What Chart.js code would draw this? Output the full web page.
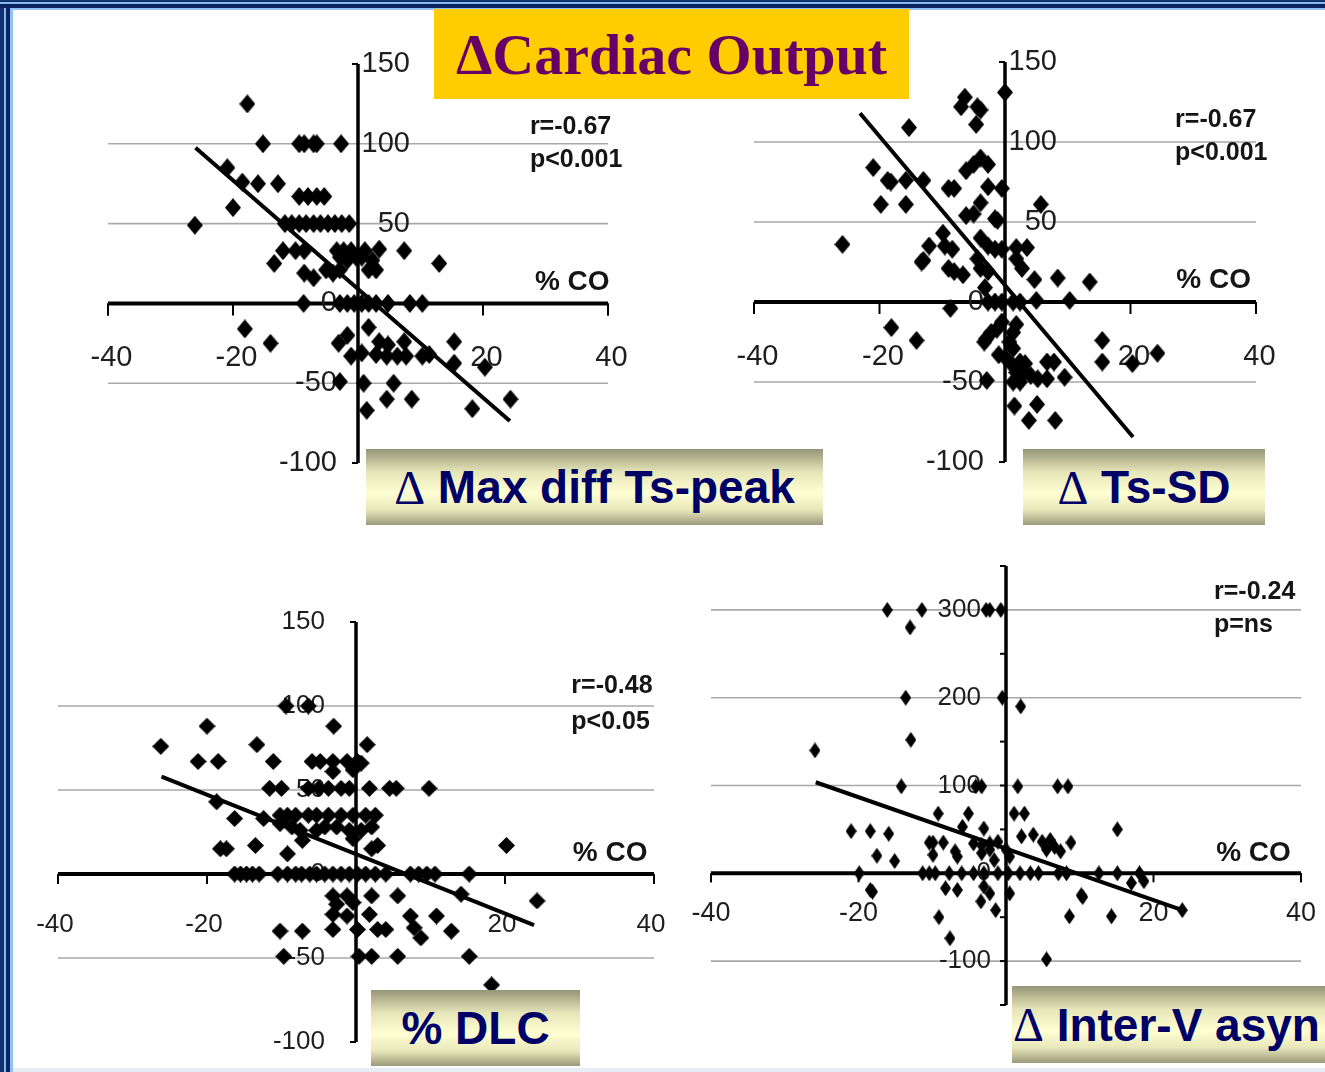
<!DOCTYPE html>
<html>
<head>
<meta charset="utf-8">
<script src="https://cdn.jsdelivr.net/npm/chart.js@4.4.1/dist/chart.umd.min.js"></script>
<style>
html,body{margin:0;padding:0;}
body{width:1325px;height:1072px;position:relative;overflow:hidden;background:#fff;font-family:"Liberation Sans",Arial,sans-serif;}
canvas{position:absolute;left:0;top:0;}
.frameTop{position:absolute;left:0;top:0;width:1325px;height:10px;background:linear-gradient(to bottom,#12306e 0,#12306e 2px,#86b6f0 2px,#86b6f0 4px,#0b2460 4px,#0b2460 8px,#8fc0f6 8px,#8fc0f6 10px);z-index:5;}
.frameLeft{position:absolute;left:0;top:8px;width:13px;height:1064px;background:linear-gradient(to right,#12306e 0,#12306e 4px,#86b6f0 4px,#86b6f0 6px,#0b2460 6px,#0b2460 10px,#8fc0f6 10px,#8fc0f6 13px);z-index:5;}
.frameBottom{position:absolute;left:0;top:1068px;width:1325px;height:4px;background:#e6edf5;z-index:4;}
.title{position:absolute;left:434px;top:9px;width:475px;height:90px;background:#ffcc00;color:#660066;font-family:"Liberation Serif","Times New Roman",serif;font-weight:bold;font-size:58px;display:flex;align-items:center;justify-content:center;z-index:6;white-space:nowrap;}
.lab{position:absolute;background:linear-gradient(to bottom,#959578 0%,#e6e5b8 30%,#ffffd4 58%,#e8e7ba 80%,#9a9a7c 100%);color:#000066;font-family:"Liberation Sans",Arial,sans-serif;font-weight:bold;font-size:46px;display:flex;align-items:center;justify-content:center;white-space:nowrap;z-index:6;}
.lab .d{font-family:"Liberation Serif","Times New Roman",serif;font-weight:normal;font-size:48px;}
</style>
</head>
<body>
<div class="frameTop"></div>
<div class="frameLeft"></div>
<div class="frameBottom"></div>
<canvas id="c1" width="1325" height="1072"></canvas>
<canvas id="c2" width="1325" height="1072"></canvas>
<canvas id="c3" width="1325" height="1072"></canvas>
<canvas id="c4" width="1325" height="1072"></canvas>
<div class="title">ΔCardiac Output</div>
<div class="lab" style="left:366px;top:449px;width:457px;height:76px;"><span class="d">Δ</span>&nbsp;Max diff Ts-peak</div>
<div class="lab" style="left:1023px;top:449px;width:242px;height:76px;"><span class="d">Δ</span>&nbsp;Ts-SD</div>
<div class="lab" style="left:371px;top:990px;width:209px;height:76px;">% DLC</div>
<div class="lab" style="left:1012px;top:986px;width:340px;height:77px;justify-content:flex-start;padding-left:1px;"><span class="d">Δ</span>&nbsp;Inter-V asyn</div>
<script>
// ---------- DATA ----------
const xTickVals = [-40, -20, 20, 40];
const xTickLabels = ['-40', '-20', '20', '40'];
const yTickVals150 = [150, 100, 50, 0, -50, -100];
const yTickLabels150 = ['150', '100', '50', '0', '-50', '-100'];
const gridVals150 = [100, 50, -50];
const yTickVals300 = [300, 200, 100, 0, -100];
const yTickLabels300 = ['300', '200', '100', '0', '-100'];
const yTickMarks300 = [350, 300, 250, 200, 150, 100, 50, 0, -50, -100, -150];
const gridVals300 = [300, 200, 100, -100];

// Panel 1: Δ Max diff Ts-peak vs % CO
const p1X = [-17.7,-15.2,-9.4,-8.6,-7.1,-6.6,-2.7,
  -20.9,-18.5,-16,-12.8,-20,-26.1,
  -9.4,-8,-6.6,-5.4,
  -11.7,-10.6,-9.4,-8.3,-7.1,-6,-4.8,-3.7,-2.6,-1.4,
  -12,-10,-8.6,-3.4,-2.3,-1.1,1.1,3.4,7.4,
  13,-13.4,
  -8.6,-7.1,-5.1,-4,-2.9,-1.7,-0.3,1.7,2.9,-2.9,0.6,2.3,
  -8.7,-2.9,-1.7,-0.6,0.6,1.7,2.9,4.8,8.3,10.3,
  -18.1,-14,1.7,-1.7,-3.1,3.4,4.8,7.4,15.4,
  -1.1,0.6,2.9,4.6,6.3,7.7,10.3,11.4,15.4,
  20.3,-2.9,0.9,5.7,4.6,8.6,1.4,18.3,24.4];
const p1Y = [125,100,100,100,100,100,100,
  85,76,75,75,60,49,
  67,67,67,67,
  50,50,50,50,50,50,50,50,50,50,
  33,33,33,33,33,33,33,34,33,
  25,25,
  19,16,21,19,21,27,29,21,21,29,29,27,
  0,0,0,0,0,0,0,0,0,0,
  -16,-25,-15,-20,-25,-24,-26,-24,-24,
  -33,-31,-32,-33,-33,-33,-33,-32,-37.5,
  -40,-49,-50,-50,-60,-60,-67,-66,-60];
const p1FitX = [-26, 24.3];
const p1FitY = [97.5, -73.7];

// Panel 2: Δ Ts-SD vs % CO
const p2X = [0,-6.4,-7,-4.4,-3.9,-4.6,-15.3,-21,-18.7,-18.2,-15.8,-13,-19.8,-15.8,-25.9,
  -6.2,-5,-3.9,-2.7,-9,-8.1,-2.7,-0.5,-3.9,-6.2,-5,-1.6,-1.2,5.7,
  -9.9,-12.1,-9.6,-8.4,-13,-13.3,-9,-8.1,-6.7,-3.9,-2.7,-1.6,-0.5,-4.4,-3.9,-2.7,1.8,3.5,1.8,2.7,4.7,8.4,13.5,-3.2,-8.7,
  -2.7,-1.6,-0.5,1.3,2.4,5,10.3,
  -18.1,-14.1,1.8,1.3,-0.5,-1.3,-2.2,-3,-3.3,0.7,1.3,-1,15.5,15.5,20.3,24.3,
  0.1,1.3,2.4,3.2,6.7,7.8,1.8,3,4.1,5.2,6.7,9.5,-2.9,1.3,2.4,1.5,5.1,3.8,8];
const p2Y = [131,128,122,122,120,111,109,84,76,75,76,76,61,61,36,
  82,86,90,86,71,71,72,71,62,54,55,52,51,61,
  43,35,35,33,26,25,21,19,17,40,35,33,33,27,21,19,34,34,27,21,14,15,12.5,9,-4,
  0,0,0,0,0,1,1,
  -16,-24,-14,-19,-12.5,-17,-19,-23,-25,-25,-29,-33,-24,-37.5,-38.5,-32,
  -35,-40,-37.5,-38.5,-37.5,-37.5,-44,-44,-46,-48,-48,-47,-49,-50,-50,-65,-64,-74,-74];
const p2FitX = [-23.1, 20.4];
const p2FitY = [118, -84.4];

// Panel 3: % DLC vs % CO
const p3X = [-9.4,-6.4,-20,-3,-26.2,-13.3,1.5,-21.2,-18.5,-11.1,
  -5.9,-4.8,-3.1,-1.2,0.2,0.7,-3.1,-0.4,
  -11.6,-10,-6.4,-5,-3.7,-2,-0.9,1.8,4.5,5.4,9.8,
  -18.7,-16.3,-12.4,
  -10.2,-9.2,-8.1,-6.4,-5.3,-3.7,-2,-0.4,1.3,2.6,
  -10.2,-8.6,-7.5,-5.3,-4.2,-2.6,-0.9,0.7,2.1,
  -7.2,-0.4,-18.2,-17.4,-13.5,-9.2,2.9,2.1,20.2,
  -16.3,-15.5,-14.7,-13.9,-13,-10.5,-9.2,-8.1,-7.3,-6.2,-5.3,-4.2,-3.1,-2,-0.9,0.2,1.3,2.6,4,7.3,8.4,9.5,10.6,15.2,
  14.1,24.3,-3.1,-1.2,2.1,5.6,-2.6,-0.4,-3.1,-1.2,1.8,7.3,10.8,
  -3.1,0.2,2.9,4,7.8,8.7,12.8,-10.2,-7.2,
  -9.7,0.4,2.1,5.6,15.2,18.2];
const p3Y = [100,100,88,88,76,77,77,67,67,67,
  67,67,67,67,67,66,61,62,
  51,51,51,51,51,51,51,51,51,51,51,
  43,33,33,
  35,35,35,35,35,35,35,35,35,35,
  30,28,26,26,28,28,26,26,28,
  20,21,15,15,17,12,17,15,17,
  0,0,0,0,0,0,0,0,0,0,0,0,0,0,0,0,0,0,0,0,0,0,0,0,
  -12,-16,-13,-13,-13,-13,-18,-17,-24,-25,-24,-25,-25,
  -33,-33,-33,-33,-32,-38,-34,-34,-34,
  -49,-49,-49,-49,-49,-66];
const p3FitX = [-26.1, 23.9];
const p3FitY = [57.9, -30.4];

// Panel 4: Δ Inter-V asyn vs % CO
const p4X = [-16.1,-11.4,-13,-2.7,-2.2,-0.7,-13.6,-0.5,2,-12.9,-25.9,
  -14.2,-4.1,-3.3,1.6,7,8.4,
  -9.2,-5.1,1.1,2.5,-21,-18.4,-15.9,15.1,-3,-5.9,
  -10.4,-9.9,-8.5,-4.4,-3.3,-2.2,-1.1,2.1,3.7,4.9,6,6.6,8.8,
  -17.5,-15.1,-9.9,-6.9,-6.6,-3.3,-2.2,-1.6,0,0.5,5.5,7.4,
  -19.9,-11.3,-10.4,-9.6,-7.7,-6,-4.4,-3,-1.1,0.3,1.9,3.3,4.4,7.1,8.2,12.6,15.1,18.1,
  -8.2,-6.6,-3,-2.2,0.5,10.2,10.4,17,18.7,-18.4,-18.1,
  -3.4,-1.4,-9.1,8.6,14.3,23.9,-7.6,5.5];
const p4Y = [300,300,280,300,300,300,200,200,190,152,140,
  99,99,99,99,99,99,
  68,68,68,68,48,48,45,50,51,53,
  35,35,35,34,32,34,36,42,44,36,38,30,35,
  20,14,21,25,19,23,27,15,27,19,27,25,
  0,0,0,0,0,0,0,0,0,0,0,0,0,0,0,0,0,0,
  -17,-19,-15,-23,-23,-25,-27,-11,-9,-19,-21,
  -32,-42,-50,-49,-49,-42,-74,-98];
const p4FitX = [-25.8, 23.9];
const p4FitY = [103.7, -42];

// ---------- RENDERING ----------
function diamond(w, h) {
  const c = document.createElement('canvas');
  c.width = w; c.height = h;
  const g = c.getContext('2d');
  g.fillStyle = '#000';
  g.beginPath();
  g.moveTo(w / 2, 0); g.lineTo(w, h / 2); g.lineTo(w / 2, h); g.lineTo(0, h / 2);
  g.closePath(); g.fill();
  return c;
}
const SANS = '"Liberation Sans", Arial, sans-serif';

function decor(L) {
  return {
    id: 'decor',
    beforeDatasetsDraw(chart) {
      const ctx = chart.ctx, xs = chart.scales.x, ys = chart.scales.y;
      const ox = xs.getPixelForValue(0), oy = ys.getPixelForValue(0);
      const left = xs.getPixelForValue(xs.min), right = xs.getPixelForValue(xs.max);
      ctx.save();
      ctx.strokeStyle = '#a9a9a9'; ctx.lineWidth = 1.6;
      L.grid.forEach(v => { const y = ys.getPixelForValue(v); ctx.beginPath(); ctx.moveTo(left, y); ctx.lineTo(right, y); ctx.stroke(); });
      ctx.strokeStyle = '#000'; ctx.lineWidth = 4;
      ctx.beginPath(); ctx.moveTo(left, oy); ctx.lineTo(right, oy); ctx.stroke();
      ctx.lineWidth = 3.5;
      ctx.beginPath(); ctx.moveTo(ox, ys.getPixelForValue(ys.max)); ctx.lineTo(ox, ys.getPixelForValue(ys.min)); ctx.stroke();
      ctx.lineWidth = 2;
      [-40].concat(L.xTicks).concat([40]).forEach(v => { const x = xs.getPixelForValue(v); ctx.beginPath(); ctx.moveTo(x, oy); ctx.lineTo(x, oy + L.xTickLen); ctx.stroke(); });
      L.yMarks.forEach(v => { const y = ys.getPixelForValue(v); ctx.beginPath(); ctx.moveTo(ox, y); ctx.lineTo(ox - 6, y); ctx.stroke(); });
      ctx.fillStyle = '#1e1e1e';
      ctx.textBaseline = 'middle';
      ctx.font = L.yFont;
      ctx.textAlign = 'right';
      L.yTicks.forEach((v, i) => {
        const y = ys.getPixelForValue(v);
        const dx = v > 0 ? L.posDx : L.negDx;
        ctx.fillText(L.yLabels[i], ox + dx, y);
      });
      ctx.font = L.xFont; ctx.textAlign = 'center';
      L.xTicks.forEach((v, i) => {
        ctx.fillText(L.xLabels[i], xs.getPixelForValue(v) + L.xDx, oy + L.xDy);
      });
      ctx.textAlign = 'left';
      ctx.fillStyle = '#151515';
      ctx.font = 'bold 25px ' + SANS;
      ctx.fillText(L.stat[0], xs.getPixelForValue(L.statAt[0]), ys.getPixelForValue(L.statAt[1]));
      ctx.fillText(L.stat[1], xs.getPixelForValue(L.statAt[0]), ys.getPixelForValue(L.statAt[2]));
      ctx.font = 'bold 28px ' + SANS;
      ctx.fillText('% CO', xs.getPixelForValue(L.coAt[0]), ys.getPixelForValue(L.coAt[1]));
      ctx.restore();
    }
  };
}

function pts(X, Y) { return X.map((x, i) => ({ x: x, y: Y[i] })); }

function makeChart(id, X, Y, FX, FY, ymin, ymax, pad, mark, L) {
  return new Chart(document.getElementById(id), {
    type: 'scatter',
    data: {
      datasets: [
        { type: 'line', data: pts(FX, FY), borderColor: '#000', borderWidth: 4, pointRadius: 0, fill: false, showLine: true, order: 0, clip: false },
        { data: pts(X, Y), pointStyle: mark, pointRadius: 8, pointHoverRadius: 8, order: 1, clip: false }
      ]
    },
    options: {
      responsive: false, animation: false, events: [],
      layout: { padding: pad },
      scales: {
        x: { type: 'linear', min: -40, max: 40, display: false },
        y: { type: 'linear', min: ymin, max: ymax, display: false }
      },
      plugins: { legend: { display: false }, tooltip: { enabled: false } }
    },
    plugins: [decor(L)]
  });
}

makeChart('c1', p1X, p1Y, p1FitX, p1FitY, -100, 150,
  { left: 108, top: 64, right: 717, bottom: 609 }, diamond(16, 19),
  { grid: gridVals150, xTicks: xTickVals, xLabels: xTickLabels, yTicks: yTickVals150, yLabels: yTickLabels150, yMarks: [150, -100],
    yFont: '29px ' + SANS, xFont: '29px ' + SANS, posDx: 52, negDx: -21, xDx: 3.5, xDy: 55, xTickLen: 12,
    stat: ['r=-0.67', 'p<0.001'], statAt: [27.5, 110.5, 89.9], coAt: [28.3, 13.4] });

makeChart('c2', p2X, p2Y, p2FitX, p2FitY, -100, 150,
  { left: 754, top: 62, right: 69, bottom: 610 }, diamond(16, 19),
  { grid: gridVals150, xTicks: xTickVals, xLabels: xTickLabels, yTicks: yTickVals150, yLabels: yTickLabels150, yMarks: [150, -100],
    yFont: '29px ' + SANS, xFont: '29px ' + SANS, posDx: 52, negDx: -21, xDx: 3.5, xDy: 55, xTickLen: 12,
    stat: ['r=-0.67', 'p<0.001'], statAt: [27.1, 113.7, 93], coAt: [27.3, 13.75] });

makeChart('c3', p3X, p3Y, p3FitX, p3FitY, -100, 150,
  { left: 58, top: 622, right: 671, bottom: 30 }, diamond(17, 17),
  { grid: gridVals150, xTicks: xTickVals, xLabels: xTickLabels, yTicks: yTickVals150, yLabels: yTickLabels150, yMarks: [150, -100],
    yFont: '26px ' + SANS, xFont: '26px ' + SANS, posDx: -31, negDx: -31, xDx: -3, xDy: 51, xTickLen: 10,
    stat: ['r=-0.48', 'p<0.05'], statAt: [28.9, 111.9, 90.5], coAt: [29.1, 12.5] });

makeChart('c4', p4X, p4Y, p4FitX, p4FitY, -150, 350,
  { left: 711, top: 566, right: 24, bottom: 67 }, diamond(11, 16),
  { grid: gridVals300, xTicks: xTickVals, xLabels: xTickLabels, yTicks: yTickVals300, yLabels: yTickLabels300, yMarks: yTickMarks300,
    yFont: '26px ' + SANS, xFont: '27px ' + SANS, posDx: -25, negDx: -15, xDx: 0, xDy: 40, xTickLen: 9,
    stat: ['r=-0.24', 'p=ns'], statAt: [28.2, 320, 282.5], coAt: [28.5, 22.8] });
</script>
</body>
</html>
